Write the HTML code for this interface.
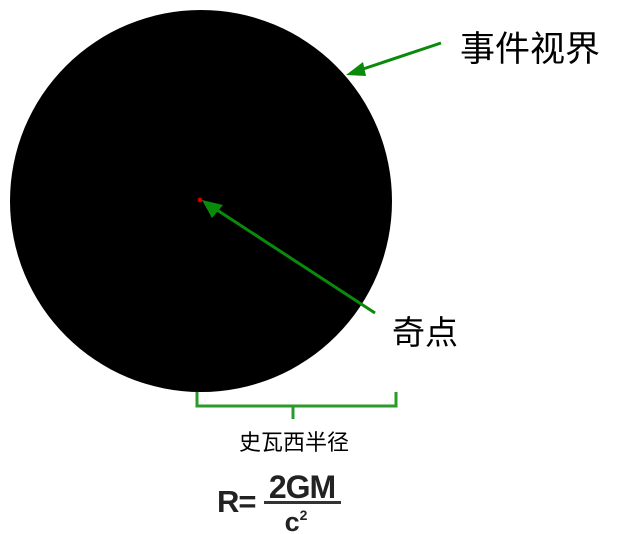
<!DOCTYPE html>
<html><head><meta charset="utf-8"><style>
html,body{margin:0;padding:0;background:#fff;width:627px;height:534px;overflow:hidden}
text{font-family:"Liberation Sans","Noto Sans CJK SC",sans-serif}
</style></head><body>
<svg width="627" height="534" viewBox="0 0 627 534" xmlns="http://www.w3.org/2000/svg">
<circle cx="201" cy="201" r="191" fill="#000"/>
<rect x="375" y="312" width="100" height="40" fill="#fff"/>
<circle cx="200" cy="200" r="2.5" fill="#c00"/>
<line x1="375" y1="313" x2="214" y2="208" stroke="#0a8a0a" stroke-width="3"/>
<polygon points="202,200 223,205 212,218" fill="#0a8a0a"/>
<line x1="441" y1="43" x2="360" y2="70" stroke="#0a8a0a" stroke-width="3"/>
<polygon points="346,75 363,62 366,76" fill="#0a8a0a"/>
<text x="460" y="61" font-size="35">事件视界</text>
<text x="392" y="344" font-size="33">奇点</text>
<path d="M197,392 V406 H396 V392 M293,406 V419" stroke="#2a9a2a" stroke-width="3" fill="none"/>
<text x="294" y="450" font-size="22" text-anchor="middle">史瓦西半径</text>
<text x="217" y="512" font-size="31" font-weight="bold" fill="#222" letter-spacing="-1">R=</text>
<text x="302" y="498" font-size="32" font-weight="bold" fill="#222" text-anchor="middle" letter-spacing="-1">2GM</text>
<rect x="264" y="501" width="77" height="3" fill="#333"/>
<text x="296" y="531" font-size="27" font-weight="bold" fill="#222" text-anchor="middle">c<tspan font-size="14" dy="-11">2</tspan></text>
</svg>
</body></html>
